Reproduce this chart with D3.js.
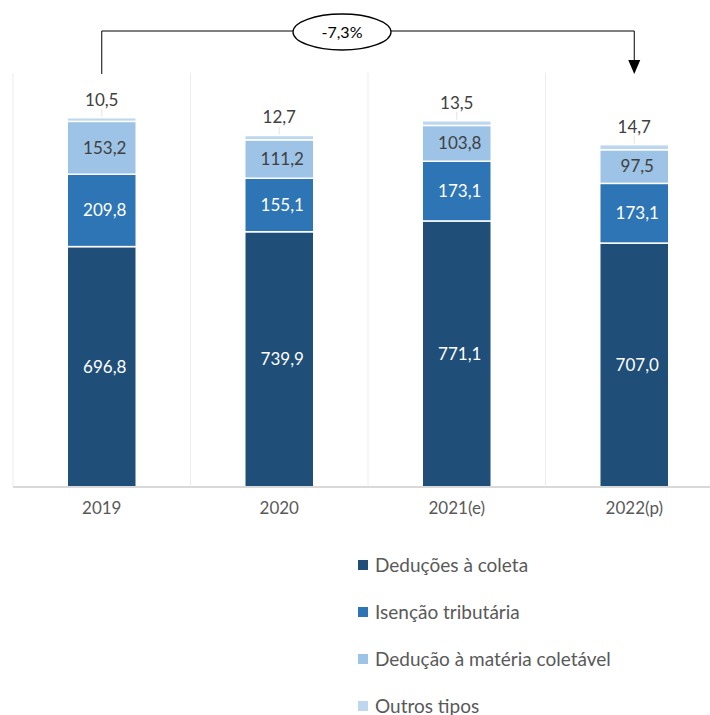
<!DOCTYPE html>
<html>
<head>
<meta charset="utf-8">
<script src="https://cdn.jsdelivr.net/npm/d3@7"></script>
<style>
  body { margin: 0; background: #fff; }
  text { font-family: Lato, "Open Sans", sans-serif; }
</style>
</head>
<body>
<div id="chart-area"></div>
<script>
var years = ["2019", "2020", "2021(e)", "2022(p)"];
var seriesNames = ["Deduções à coleta", "Isenção tributária", "Dedução à matéria coletável", "Outros tipos"];
var deducoes = [696.8, 739.9, 771.1, 707.0];
var isencao = [209.8, 155.1, 173.1, 173.1];
var materia = [153.2, 111.2, 103.8, 97.5];
var outros = [10.5, 12.7, 13.5, 14.7];
var changeLabel = "-7,3%";

var colors = ["#1f4e79", "#2e75b6", "#9dc3e6", "#bdd7ee"];
var labelColors = ["#ffffff", "#ffffff", "#404040", "#404040"];

var width = 710, height = 715;

var svg = d3.select("#chart-area").append("svg")
  .attr("width", width)
  .attr("height", height);

// table for the stack
var table = years.map(function(y, i) {
  return { year: y, d0: deducoes[i], d1: isencao[i], d2: materia[i], d3: outros[i] };
});
var keys = ["d0", "d1", "d2", "d3"];
var stacked = d3.stack().keys(keys)(table);

var x = d3.scaleBand().domain(years).range([13, 723]).paddingInner(0).paddingOuter(0);
var y = d3.scaleLinear().domain([0, 1200]).range([487, 73]);
var barW = 69;

// vertical gridlines between categories
svg.append("g").selectAll("line")
  .data(years)
  .enter().append("line")
  .attr("x1", function(d) { return x(d); })
  .attr("x2", function(d) { return x(d); })
  .attr("y1", y(1200))
  .attr("y2", y(0))
  .attr("stroke", "#ececec")
  .attr("stroke-width", 1);

// bars
var layers = svg.append("g").selectAll("g")
  .data(stacked)
  .enter().append("g")
  .attr("fill", function(d, i) { return colors[i]; });

layers.selectAll("rect")
  .data(function(d) { return d; })
  .enter().append("rect")
  .attr("x", function(d) { return x(d.data.year) + x.bandwidth() / 2 - barW / 2; })
  .attr("y", function(d) { return y(d[1]); })
  .attr("width", barW)
  .attr("height", function(d) { return y(d[0]) - y(d[1]); })
  .attr("stroke", "#fff")
  .attr("stroke-width", 1.5);

// x axis
var xAxis = svg.append("g")
  .attr("transform", "translate(0," + y(0) + ")")
  .call(d3.axisBottom(x).tickSize(0).tickPadding(15));
xAxis.select(".domain").attr("stroke", "#d9d9d9").attr("stroke-width", 2).attr("d", "M13,0H710");
xAxis.selectAll("text")
  .attr("font-size", "17px")
  .attr("fill", "#595959")
  .style("font-family", "Lato, sans-serif");

// labels inside segments
var fmt = function(v) { return d3.format(".1f")(v).replace(".", ","); };

stacked.forEach(function(layer, li) {
  if (li < 3) {
    svg.append("g").selectAll("text")
      .data(layer)
      .enter().append("text")
      .attr("x", function(d) { return x(d.data.year) + x.bandwidth() / 2 + 3; })
      .attr("y", function(d) { return (y(d[0]) + y(d[1])) / 2; })
      .attr("dy", "0.35em")
      .attr("text-anchor", "middle")
      .attr("font-size", "17px")
      .attr("fill", labelColors[li])
      .text(function(d) { return fmt(d.data[keys[li]]); });
  } else {
    var g = svg.append("g");
    g.selectAll("line")
      .data(layer)
      .enter().append("line")
      .attr("x1", function(d) { return x(d.data.year) + x.bandwidth() / 2; })
      .attr("x2", function(d) { return x(d.data.year) + x.bandwidth() / 2; })
      .attr("y1", function(d) { return y(d[1]) - 9; })
      .attr("y2", function(d) { return y(d[1]) - 1; })
      .attr("stroke", "#e3e3e3");
    g.selectAll("text")
      .data(layer)
      .enter().append("text")
      .attr("x", function(d) { return x(d.data.year) + x.bandwidth() / 2; })
      .attr("y", function(d) { return y(d[1]) - 18; })
      .attr("dy", "0.35em")
      .attr("text-anchor", "middle")
      .attr("font-size", "17px")
      .attr("fill", "#404040")
      .text(function(d) { return fmt(d.data.d3); });
  }
});

// change annotation 2019 -> 2022(p)
var xa = x(years[0]) + x.bandwidth() / 2;
var xb = x(years[3]) + x.bandwidth() / 2;
var topY = 31;
var ellX = 342, ellRx = 49, ellRy = 18;

svg.append("path")
  .attr("d", "M" + xa + "," + 74 + "V" + topY + "H" + (ellX - ellRx))
  .attr("fill", "none")
  .attr("stroke", "#000")
  .attr("stroke-width", 1);
svg.append("path")
  .attr("d", "M" + (ellX + ellRx) + "," + topY + "H" + xb + "V" + 62)
  .attr("fill", "none")
  .attr("stroke", "#000")
  .attr("stroke-width", 1);
svg.append("path")
  .attr("d", "M" + (xb - 6) + ",60L" + (xb + 6) + ",60L" + xb + ",74Z")
  .attr("fill", "#000");
svg.append("ellipse")
  .attr("cx", ellX)
  .attr("cy", topY + 1)
  .attr("rx", ellRx)
  .attr("ry", ellRy)
  .attr("fill", "#fff")
  .attr("stroke", "#000")
  .attr("stroke-width", 1.3);
svg.append("text")
  .attr("x", ellX)
  .attr("y", topY + 1)
  .attr("dy", "0.35em")
  .attr("text-anchor", "middle")
  .attr("font-size", "16px")
  .attr("fill", "#000")
  .text(changeLabel);

// legend
var legend = svg.append("g").selectAll("g")
  .data(seriesNames)
  .enter().append("g")
  .attr("transform", function(d, i) { return "translate(358," + (565 + i * 47) + ")"; });
legend.append("rect")
  .attr("x", 0)
  .attr("y", -5)
  .attr("width", 10)
  .attr("height", 10)
  .attr("fill", function(d, i) { return colors[i]; });
legend.append("text")
  .attr("x", 17)
  .attr("dy", "0.35em")
  .attr("font-size", "19px")
  .attr("fill", "#595959")
  .text(function(d) { return d; });
</script>
</body>
</html>
